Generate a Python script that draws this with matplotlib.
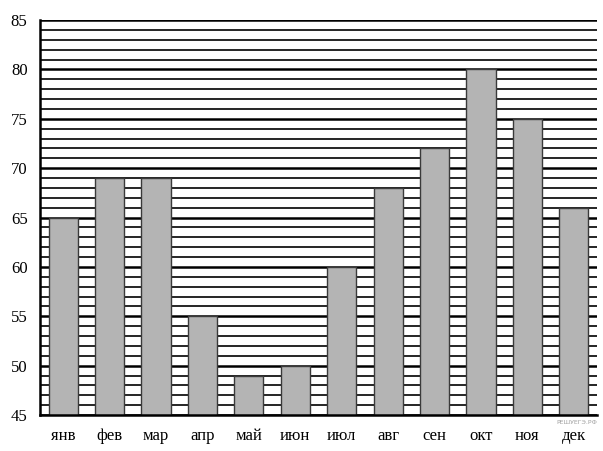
import matplotlib
matplotlib.use("Agg")
import matplotlib.pyplot as plt
import numpy as np

months = ["янв", "фев", "мар", "апр", "май", "июн", "июл", "авг", "сен", "окт", "ноя", "дек"]
values = [65, 69, 69, 55, 49, 50, 60, 68, 72, 80, 75, 66]
y_major = [45, 50, 55, 60, 65, 70, 75, 80, 85]
y_minor = list(range(45, 86))

plt.rcParams['font.family'] = ['Liberation Serif', 'DejaVu Serif']

fig = plt.figure(figsize=(6.03, 4.51), dpi=100)
ax = fig.add_axes([40/603, 36/451, 557/603, 395/451])

x = np.arange(len(months))
ax.bar(x, values, width=0.63, bottom=0, color="#b4b4b4", edgecolor="#3a3a3a",
       linewidth=1.0, zorder=3)

ax.set_xlim(-0.5, 11.5)
ax.set_ylim(45, 85)
ax.set_yticks(y_major)
ax.set_yticks(y_minor, minor=True)
ax.grid(axis="y", which="minor", color="black", linewidth=1.2, zorder=0)
ax.grid(axis="y", which="major", color="black", linewidth=1.8, zorder=0)
ax.set_axisbelow(True)

ax.set_xticks(x)
ax.set_xticklabels(months)
ax.tick_params(axis="both", which="both", length=0, labelsize=12)
ax.tick_params(axis="y", pad=9)
ax.tick_params(axis="x", pad=9)

for s in ["top", "right"]:
    ax.spines[s].set_visible(False)
for s in ["left", "bottom"]:
    ax.spines[s].set_color("black")
    ax.spines[s].set_linewidth(1.8)
    ax.spines[s].set_zorder(4)

fig.text(577/603, 1 - 423/451, "РЕШУЕГЭ.РФ", fontsize=4.5, color="#a0a0a0",
         ha="center", va="center", family=["DejaVu Sans"])

fig.savefig("out.png", dpi=100)
